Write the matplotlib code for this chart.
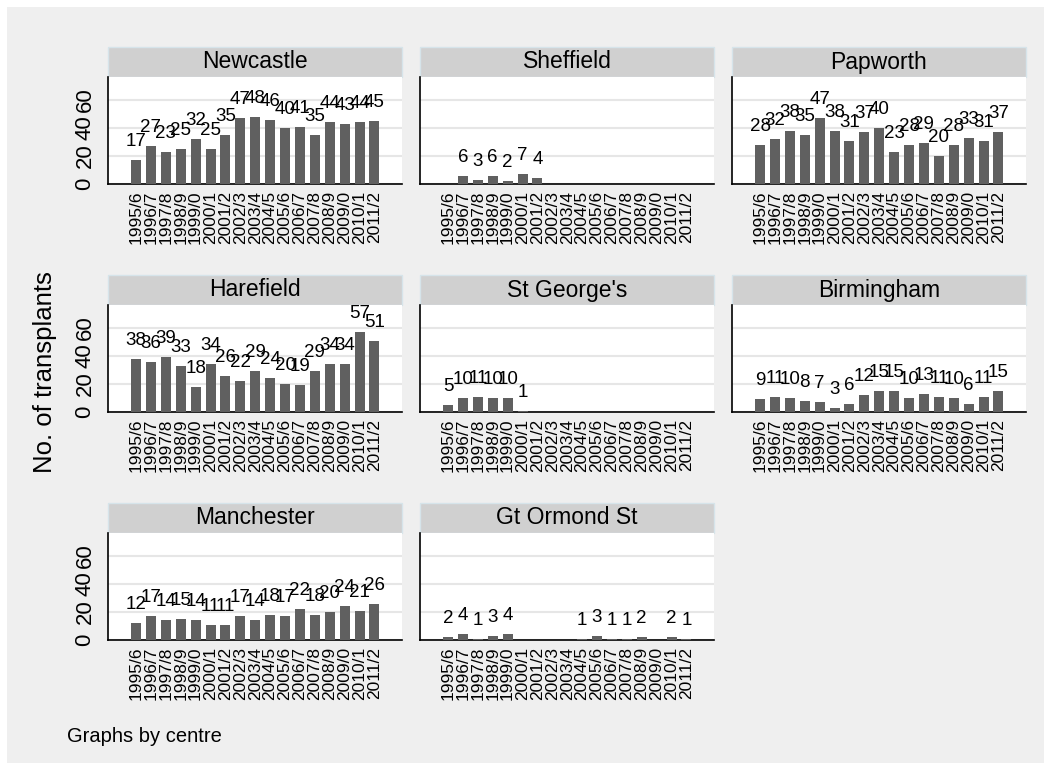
import numpy as np
import matplotlib
matplotlib.use('Agg')
import matplotlib.pyplot as plt
from matplotlib.patches import Rectangle

plt.rcParams['font.family'] = ['Liberation Sans', 'DejaVu Sans']

# financial years shown on every panel
years = ['1995/6', '1996/7', '1997/8', '1998/9', '1999/0', '2000/1', '2001/2',
         '2002/3', '2003/4', '2004/5', '2005/6', '2006/7', '2007/8', '2008/9',
         '2009/0', '2010/1', '2011/2']

nan = np.nan
centres = ['Newcastle', 'Sheffield', 'Papworth', 'Harefield', "St George's",
           'Birmingham', 'Manchester', 'Gt Ormond St']

newcastle = [17, 27, 23, 25, 32, 25, 35, 47, 48, 46, 40, 41, 35, 44, 43, 44, 45]
sheffield = [nan, 6, 3, 6, 2, 7, 4, nan, nan, nan, nan, nan, nan, nan, nan, nan, nan]
papworth = [28, 32, 38, 35, 47, 38, 31, 37, 40, 23, 28, 29, 20, 28, 33, 31, 37]
harefield = [38, 36, 39, 33, 18, 34, 26, 22, 29, 24, 20, 19, 29, 34, 34, 57, 51]
st_georges = [5, 10, 11, 10, 10, 1, nan, nan, nan, nan, nan, nan, nan, nan, nan, nan, nan]
birmingham = [9, 11, 10, 8, 7, 3, 6, 12, 15, 15, 10, 13, 11, 10, 6, 11, 15]
manchester = [12, 17, 14, 15, 14, 11, 11, 17, 14, 18, 17, 22, 18, 20, 24, 21, 26]
gt_ormond = [2, 4, 1, 3, 4, nan, nan, nan, nan, 1, 3, 1, 1, 2, nan, 2, 1]

series = [newcastle, sheffield, papworth, harefield, st_georges,
          birmingham, manchester, gt_ormond]
yticks = [0, 20, 40, 60]

W, H = 1051, 772
fig = plt.figure(figsize=(W / 100, H / 100), dpi=100)
fig.patch.set_facecolor('white')

def fx(px):
    return px / W

def fy(py):
    return 1 - py / H

# outer graph region
fig.patches.append(Rectangle((fx(7), fy(763)), fx(1037), (756) / H,
                             transform=fig.transFigure, facecolor='#efefef',
                             edgecolor='none', zorder=-10))

col_x = [108, 420, 732]
row_top = [77, 305, 533]
pw, ph, sh = 294, 107, 30
x = np.arange(len(years))

for i, (name, vals) in enumerate(zip(centres, series)):
    r, c = divmod(i, 3)
    left, top = col_x[c], row_top[r]

    # strip with the centre name
    fig.patches.append(Rectangle((fx(left), fy(top)), fx(pw), sh / H,
                                 transform=fig.transFigure, facecolor='#d0d0d0',
                                 edgecolor='#d6e4ea', lw=1, zorder=-5))
    fig.text(fx(left + pw / 2), fy(top - sh / 2), name, ha='center', va='center',
             fontsize=16.5, color='black')

    ax = fig.add_axes([fx(left), fy(top + ph), fx(pw), ph / H])
    ax.set_facecolor('white')
    v = np.array(vals, dtype=float)
    ax.bar(x, np.nan_to_num(v), width=0.67, color='#606060', zorder=3)
    for xi, vi in zip(x, v):
        if not np.isnan(vi):
            ax.text(xi, vi + 10, '%d' % vi, ha='center', va='baseline',
                    fontsize=13.5, zorder=4, clip_on=False)

    ax.set_xlim(-1.88, 17.85)
    ax.set_ylim(0, 76.4)
    ax.set_yticks(yticks)
    ax.yaxis.grid(True, color='#e6e6e6', lw=1.5, zorder=0)
    ax.set_axisbelow(True)
    for s in ['top', 'right']:
        ax.spines[s].set_visible(False)
    for s in ['left', 'bottom']:
        ax.spines[s].set_color('black')
        ax.spines[s].set_linewidth(1.2)
    ax.set_xticks(x)
    ax.set_xticklabels(years, rotation=90, fontsize=12.5)
    ax.tick_params(axis='x', length=0, pad=5)
    if c == 0:
        ax.set_yticklabels([str(t) for t in yticks], rotation=90, va='center',
                           fontsize=16)
        ax.tick_params(axis='y', length=0, pad=9)
    else:
        ax.set_yticklabels([])
        ax.tick_params(axis='y', length=0)

fig.text(fx(45), fy(372), 'No. of transplants', rotation=90, ha='center',
         va='center', fontsize=18.5)
fig.text(fx(67), fy(737), 'Graphs by centre', ha='left', va='center',
         fontsize=14.5)

fig.savefig('out.png', dpi=100)
